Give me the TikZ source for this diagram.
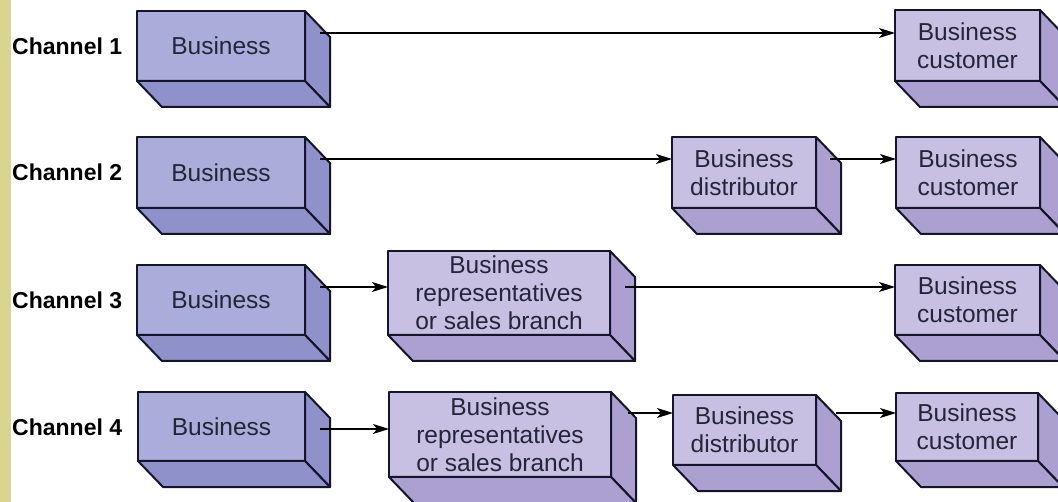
\documentclass[tikz,border=0pt]{standalone}
\usepackage{fontspec}
\setmainfont{Liberation Sans}
\usetikzlibrary{arrows.meta}
\definecolor{stripc}{HTML}{D9D48E}
\definecolor{bluefront}{HTML}{AAACDA}
\definecolor{blueside}{HTML}{8F91CB}
\definecolor{lilfront}{HTML}{C8C0E2}
\definecolor{lilside}{HTML}{ACA0D0}
\definecolor{edgec}{HTML}{14142A}
\definecolor{txtc}{HTML}{25253A}
\tikzset{
  cube/.style={draw=edgec, line width=2pt, line join=round, rectangle, inner sep=0pt, outer sep=0pt,
    align=center, text=txtc, font=\fontsize{24.5}{28}\selectfont, anchor=north west},
  face/.style={draw=edgec, line width=2pt, line join=round},
  lbl/.style={font=\bfseries\fontsize{23}{27}\selectfont, text=black, anchor=west, inner sep=0pt},
  arr/.style={draw=black, line width=1.2pt, -{Stealth[length=16pt,width=10pt,inset=4pt]}}
}
\newcommand\mkbox[8]{% name, L, T, W, H, front, side, text
  \node[cube, fill=#6, minimum width=#4pt, minimum height=#5pt] (#1) at (#2,#3) {#8};
  \filldraw[face, fill=#7] (#1.north east) -- ([shift={(25,26)}]#1.north east) -- ([shift={(25,26)}]#1.south east) -- (#1.south east) -- cycle;
  \filldraw[face, fill=#7] (#1.south west) -- ([shift={(25,26)}]#1.south west) -- ([shift={(25,26)}]#1.south east) -- (#1.south east) -- cycle;
}
\begin{document}
\begin{tikzpicture}[x=1pt, y=-1pt]
\clip (0,0) rectangle (1058,502);
\fill[white] (0,0) rectangle (1058,502);
\fill[stripc] (0,0) rectangle (11,502);

% Row 1
\mkbox{b1}{137}{11}{168}{70}{bluefront}{blueside}{Business}
\mkbox{c1}{895}{10}{145}{71}{lilfront}{lilside}{Business\\customer}
\node[lbl] (l1) at (12,46) {Channel 1};
\coordinate (s1) at (320,33);
\draw[arr] (s1) -- (s1 -| c1.west);

% Row 2
\mkbox{b2}{137}{137}{168}{71}{bluefront}{blueside}{Business}
\mkbox{d2}{672}{137}{144}{71}{lilfront}{lilside}{Business\\distributor}
\mkbox{c2}{896}{137}{144}{71}{lilfront}{lilside}{Business\\customer}
\node[lbl] (l2) at (12,172) {Channel 2};
\coordinate (s2a) at (320,159);
\coordinate (s2b) at (830,159);
\draw[arr] (s2a) -- (s2a -| d2.west);
\draw[arr] (s2b) -- (s2b -| c2.west);

% Row 3
\mkbox{b3}{137}{265}{168}{70}{bluefront}{blueside}{Business}
\mkbox{r3}{388}{251}{222}{84}{lilfront}{lilside}{Business\\representatives\\or sales branch}
\mkbox{c3}{895}{265}{145}{70}{lilfront}{lilside}{Business\\customer}
\node[lbl] (l3) at (12,300) {Channel 3};
\coordinate (s3a) at (320,287);
\coordinate (s3b) at (625,287);
\draw[arr] (s3a) -- (s3a -| r3.west);
\draw[arr] (s3b) -- (s3b -| c3.west);

% Row 4
\mkbox{b4}{138}{392}{167}{69}{bluefront}{blueside}{Business}
\mkbox{r4}{389}{392}{222}{85}{lilfront}{lilside}{Business\\representatives\\or sales branch}
\mkbox{d4}{673}{395}{143}{70}{lilfront}{lilside}{Business\\distributor}
\mkbox{c4}{896}{393}{142}{68}{lilfront}{lilside}{Business\\customer}
\node[lbl] (l4) at (12,427) {Channel 4};
\coordinate (s4a) at (320,429);
\coordinate (s4b) at (628,413);
\coordinate (s4c) at (836,413);
\draw[arr] (s4a) -- (s4a -| r4.west);
\draw[arr] (s4b) -- (s4b -| d4.west);
\draw[arr] (s4c) -- (s4c -| c4.west);
\end{tikzpicture}
\end{document}
